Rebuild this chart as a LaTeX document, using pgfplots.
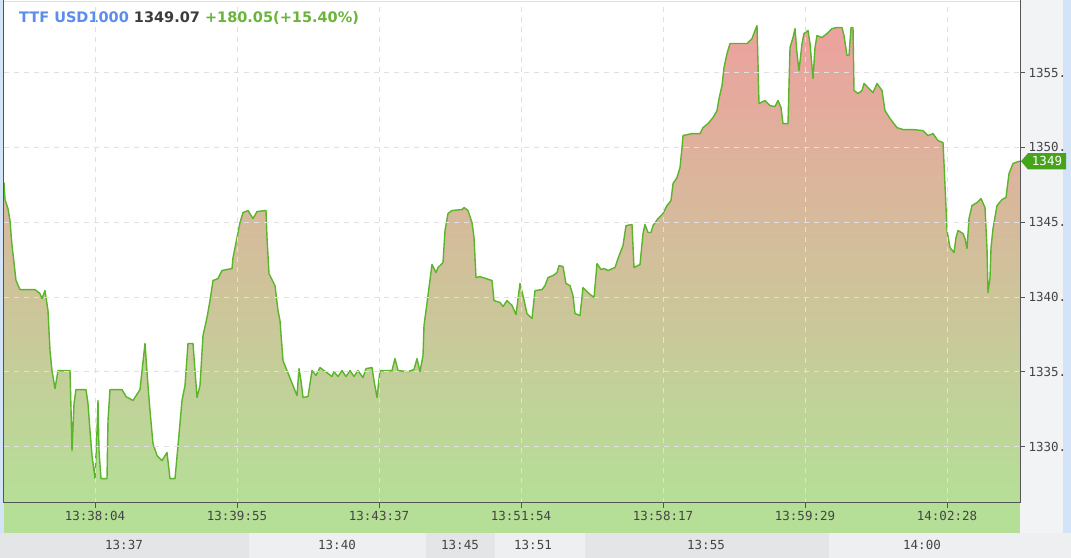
\documentclass[border=0pt]{standalone}
\usepackage{fontspec}
\setmainfont{DejaVu Sans}
\newfontfamily\monofont{DejaVu Sans Mono}
\usepackage{pgfplots}
\usepackage{pgfplotstable}
\pgfplotsset{compat=1.18}

\definecolor{ttfline}{HTML}{5AB52A}
\definecolor{filltop}{HTML}{EDA19E}
\definecolor{fillbot}{HTML}{B5DF97}
\definecolor{gridgray}{HTML}{E0E0E0}
\definecolor{axisgray}{HTML}{555555}
\definecolor{labgray}{HTML}{444444}
\definecolor{panel}{HTML}{F2F3F5}
\definecolor{edgeblue}{HTML}{D3E3F8}
\definecolor{banddark}{HTML}{E4E5E7}
\definecolor{bandlight}{HTML}{EEEFF1}
\definecolor{ttfblue}{HTML}{5B8DEE}
\definecolor{ttfdark}{HTML}{3C3C3C}
\definecolor{ttfgreen}{HTML}{6AB43A}
\definecolor{taggreen}{HTML}{46A31B}

\newcommand\tickfont{\monofont\fontsize{12.5}{14}\selectfont}

% x = sample position along the strip, y = price
\pgfplotstableread{
x y
4 1347.65
5 1346.51
8 1345.91
10 1345.11
12 1343.44
14 1342.30
16 1341.10
20 1340.49
35 1340.49
40 1340.23
42 1339.89
45 1340.43
48 1339.09
50 1336.42
52 1335.08
55 1333.88
58 1335.08
70 1335.08
71 1332.54
72 1329.73
74 1332.87
76 1333.81
86 1333.81
88 1332.87
90 1331.07
92 1329.40
95 1327.86
97 1331.07
98 1333.08
99 1329.73
101 1327.86
107 1327.86
108 1331.74
110 1333.81
122 1333.81
126 1333.34
133 1333.08
140 1333.81
145 1336.89
148 1334.08
150 1332.41
153 1330.20
157 1329.40
162 1329.06
167 1329.60
170 1327.86
175 1327.86
178 1330.07
182 1333.08
185 1334.08
188 1336.89
193 1336.89
197 1333.28
200 1334.08
203 1337.42
207 1338.62
210 1339.76
213 1341.10
218 1341.23
222 1341.77
232 1341.90
233 1342.63
237 1343.97
240 1344.97
243 1345.64
248 1345.78
253 1345.24
257 1345.71
266 1345.78
267 1343.97
269 1341.56
275 1340.76
278 1339.09
280 1338.42
283 1335.75
287 1335.08
293 1334.08
297 1333.41
299 1335.21
301 1334.41
303 1333.28
308 1333.34
312 1335.08
316 1334.75
320 1335.28
328 1334.88
332 1334.68
334 1335.01
338 1334.68
342 1335.08
346 1334.68
350 1335.08
354 1334.68
358 1335.08
363 1334.61
366 1335.21
372 1335.28
374 1334.41
377 1333.28
380 1335.08
392 1335.08
395 1335.88
398 1335.08
408 1335.01
414 1335.15
417 1335.88
420 1335.01
423 1336.08
424 1338.09
426 1339.09
432 1342.17
436 1341.63
438 1341.97
443 1342.30
445 1344.44
448 1345.58
452 1345.78
462 1345.84
464 1345.98
468 1345.78
472 1344.97
474 1343.97
476 1341.30
480 1341.36
492 1341.10
494 1339.76
500 1339.63
503 1339.36
507 1339.76
512 1339.43
516 1338.82
520 1340.90
523 1340.09
527 1338.89
532 1338.56
535 1340.43
542 1340.49
545 1340.76
548 1341.30
553 1341.43
557 1341.63
559 1342.10
563 1342.03
566 1340.90
570 1340.76
573 1340.09
575 1338.89
580 1338.76
583 1340.63
588 1340.29
594 1339.96
597 1342.23
601 1341.83
604 1341.90
608 1341.77
615 1341.97
618 1342.57
623 1343.44
626 1344.77
632 1344.84
634 1341.97
640 1342.17
643 1344.24
645 1344.84
648 1344.31
651 1344.31
653 1344.77
658 1345.24
663 1345.58
667 1346.11
671 1346.44
673 1347.58
677 1347.98
680 1348.65
682 1349.99
683 1350.79
692 1350.92
700 1350.92
703 1351.32
708 1351.59
713 1351.99
717 1352.46
719 1353.26
722 1354.13
724 1355.33
727 1356.27
730 1356.94
738 1356.94
747 1356.94
752 1357.27
755 1357.81
757 1358.14
758 1355.60
759 1352.93
765 1353.13
770 1352.79
775 1352.73
778 1353.13
781 1352.66
783 1351.59
788 1351.59
790 1356.67
793 1357.34
795 1357.94
797 1356.27
799 1355.13
802 1356.94
804 1357.61
808 1357.81
810 1356.94
813 1354.60
815 1356.67
817 1357.47
822 1357.34
827 1357.61
832 1357.94
837 1358.01
842 1358.01
844 1357.47
847 1356.14
849 1356.14
851 1358.01
853 1358.01
854 1353.80
858 1353.60
862 1353.80
864 1354.27
868 1354.00
873 1353.66
877 1354.27
882 1353.80
885 1352.46
890 1351.93
897 1351.32
903 1351.19
913 1351.19
923 1351.12
928 1350.79
933 1350.92
938 1350.45
943 1350.32
944 1348.92
946 1345.98
947 1344.44
950 1343.30
954 1342.97
956 1343.97
958 1344.44
963 1344.24
965 1343.90
967 1343.24
969 1345.24
972 1346.11
977 1346.31
981 1346.58
985 1345.98
987 1343.24
988 1340.29
990 1341.30
991 1343.30
993 1344.57
997 1346.11
1002 1346.51
1006 1346.65
1009 1348.25
1013 1348.92
1018 1349.05
1020 1349.07
}\pricedata

\begin{document}
\begin{tikzpicture}
% page furniture, in pixel units (y up)
\begin{scope}[x=1pt,y=1pt]
  \fill[white] (0,0) rectangle (1071,557);
  \fill[edgeblue] (0,25) rectangle (4,557);
  \fill[panel] (1020,25) rectangle (1063,557);
  \fill[edgeblue] (1063,25) rectangle (1071,557);
  \fill[fillbot] (4,25) rectangle (1020,55);
  \fill[banddark] (0,0) rectangle (249,25);
  \fill[bandlight] (249,0) rectangle (426,25);
  \fill[banddark] (426,0) rectangle (495,25);
  \fill[bandlight] (495,0) rectangle (585,25);
  \fill[banddark] (585,0) rectangle (829,25);
  \fill[bandlight] (829,0) rectangle (1071,25);
  \foreach \px/\lab in {124/13:37, 337/13:40, 460/13:45, 533/13:51, 706/13:55, 922/14:00}
    \node[font=\tickfont, text=labgray, inner sep=0] at (\px,12.5) {\lab};
  \node[anchor=base west, inner sep=0, font=\bfseries\fontsize{14.5}{16}\selectfont]
    at (19,534.5) {\textcolor{ttfblue}{TTF USD1000} \textcolor{ttfdark}{1349.07} \textcolor{ttfgreen}{+180.05(+15.40\%)}};
\end{scope}

\begin{axis}[
  at={(4pt,55pt)}, anchor=south west, scale only axis,
  width=1016pt, height=501pt,
  xmin=4, xmax=1020, ymin=1326.26, ymax=1359.75,
  axis line style={draw=none},
  axis on top,
  xtick={95,237,379,521,663,805,947},
  xticklabels={13:38:04,13:39:55,13:43:37,13:51:54,13:58:17,13:59:29,14:02:28},
  ytick={1330,1335,1340,1345,1350,1355},
  yticklabels={1330.,1335.,1340.,1345.,1350.,1355.},
  xtick pos=bottom, ytick pos=right, yticklabel pos=right,
  tick align=outside, major tick length=5pt,
  tick style={axisgray, line width=0.8pt},
  ticklabel style={font=\tickfont, text=labgray},
  grid=major, grid style={gridgray, dash pattern=on 5pt off 5pt, line width=0.8pt},
]
\addplot[draw=none, top color=filltop, bottom color=fillbot, forget plot]
  table {\pricedata} -- (axis cs:1020,1326.26) -- (axis cs:4,1326.26) -- cycle;
\addplot[ttfline, line width=1.4pt, line join=round] table {\pricedata};
\coordinate (last) at (axis cs:1020,1349.07);
\end{axis}

\begin{scope}[x=1pt,y=1pt]
  \draw[axisgray, line width=1pt] (3.5,55) -- (3.5,557);
  \draw[axisgray, line width=1pt] (1020.5,55) -- (1020.5,557);
  \draw[axisgray, line width=1pt] (3.5,55) -- (1020.5,55);
  \draw[gridgray, line width=0.8pt] (4,556.5) -- (1020,556.5);
  \fill[taggreen] ([xshift=1pt]last) -- ++(7,8.2) -- ++(38,0) -- ++(0,-16.4) -- ++(-38,0) -- cycle;
  \node[text=white, font=\tickfont, inner sep=0] at ([xshift=27pt]last) {1349};
\end{scope}
\end{tikzpicture}
\end{document}
